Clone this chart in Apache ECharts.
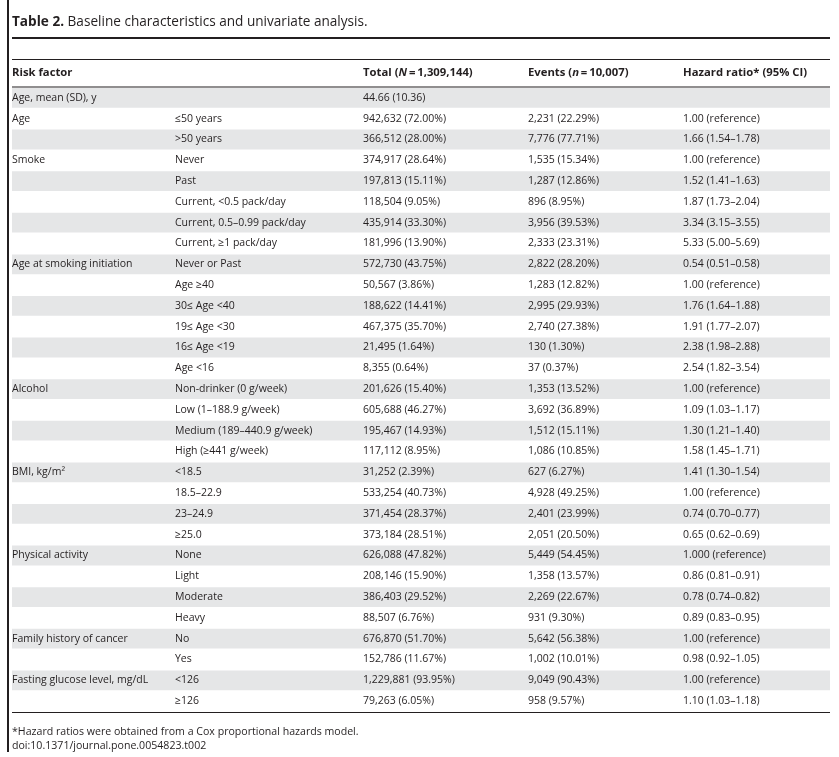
<!DOCTYPE html>
<html><head><meta charset="utf-8">
<script src="https://cdn.jsdelivr.net/npm/echarts@6/dist/echarts.min.js"></script>
<style>html,body{margin:0;padding:0;background:#fff}#c{width:839px;height:757px}</style>
</head><body><div id="c"></div>
<script>
// ---- table content ----
const titleBold = 'Table 2.';
const titleRest = ' Baseline characteristics and univariate analysis.';
const headers = ['Risk factor', 'Total ({i|N}\u2009=\u20091,309,144)', 'Events ({i|n}\u2009=\u200910,007)', 'Hazard ratio* (95% CI)'];
const factors = [
  'Age, mean (SD), y', 'Age', '', 'Smoke', '', '', '', '',
  'Age at smoking initiation', '', '', '', '', '',
  'Alcohol', '', '', '',
  'BMI, kg/m\u00B2', '', '', '',
  'Physical activity', '', '', '',
  'Family history of cancer', '',
  'Fasting glucose level, mg/dL', ''
];
const levels = [
  '', '\u226450 years', '>50 years',
  'Never', 'Past', 'Current, <0.5 pack/day', 'Current, 0.5\u20130.99 pack/day', 'Current, \u22651 pack/day',
  'Never or Past', 'Age \u226540', '30\u2264 Age <40', '19\u2264 Age <30', '16\u2264 Age <19', 'Age <16',
  'Non-drinker (0 g/week)', 'Low (1\u2013188.9 g/week)', 'Medium (189\u2013440.9 g/week)', 'High (\u2265441 g/week)',
  '<18.5', '18.5\u201322.9', '23\u201324.9', '\u226525.0',
  'None', 'Light', 'Moderate', 'Heavy',
  'No', 'Yes',
  '<126', '\u2265126'
];
const totals = [
  '44.66 (10.36)', '942,632 (72.00%)', '366,512 (28.00%)',
  '374,917 (28.64%)', '197,813 (15.11%)', '118,504 (9.05%)', '435,914 (33.30%)', '181,996 (13.90%)',
  '572,730 (43.75%)', '50,567 (3.86%)', '188,622 (14.41%)', '467,375 (35.70%)', '21,495 (1.64%)', '8,355 (0.64%)',
  '201,626 (15.40%)', '605,688 (46.27%)', '195,467 (14.93%)', '117,112 (8.95%)',
  '31,252 (2.39%)', '533,254 (40.73%)', '371,454 (28.37%)', '373,184 (28.51%)',
  '626,088 (47.82%)', '208,146 (15.90%)', '386,403 (29.52%)', '88,507 (6.76%)',
  '676,870 (51.70%)', '152,786 (11.67%)',
  '1,229,881 (93.95%)', '79,263 (6.05%)'
];
const events = [
  '', '2,231 (22.29%)', '7,776 (77.71%)',
  '1,535 (15.34%)', '1,287 (12.86%)', '896 (8.95%)', '3,956 (39.53%)', '2,333 (23.31%)',
  '2,822 (28.20%)', '1,283 (12.82%)', '2,995 (29.93%)', '2,740 (27.38%)', '130 (1.30%)', '37 (0.37%)',
  '1,353 (13.52%)', '3,692 (36.89%)', '1,512 (15.11%)', '1,086 (10.85%)',
  '627 (6.27%)', '4,928 (49.25%)', '2,401 (23.99%)', '2,051 (20.50%)',
  '5,449 (54.45%)', '1,358 (13.57%)', '2,269 (22.67%)', '931 (9.30%)',
  '5,642 (56.38%)', '1,002 (10.01%)',
  '9,049 (90.43%)', '958 (9.57%)'
];
const hazardRatios = [
  '', '1.00 (reference)', '1.66 (1.54\u20131.78)',
  '1.00 (reference)', '1.52 (1.41\u20131.63)', '1.87 (1.73\u20132.04)', '3.34 (3.15\u20133.55)', '5.33 (5.00\u20135.69)',
  '0.54 (0.51\u20130.58)', '1.00 (reference)', '1.76 (1.64\u20131.88)', '1.91 (1.77\u20132.07)', '2.38 (1.98\u20132.88)', '2.54 (1.82\u20133.54)',
  '1.00 (reference)', '1.09 (1.03\u20131.17)', '1.30 (1.21\u20131.40)', '1.58 (1.45\u20131.71)',
  '1.41 (1.30\u20131.54)', '1.00 (reference)', '0.74 (0.70\u20130.77)', '0.65 (0.62\u20130.69)',
  '1.000 (reference)', '0.86 (0.81\u20130.91)', '0.78 (0.74\u20130.82)', '0.89 (0.83\u20130.95)',
  '1.00 (reference)', '0.98 (0.92\u20131.05)',
  '1.00 (reference)', '1.10 (1.03\u20131.18)'
];
const footnotes = ['*Hazard ratios were obtained from a Cox proportional hazards model.', 'doi:10.1371/journal.pone.0054823.t002'];

// ---- layout / style ----
const FONT = '"Open Sans", "Noto Sans", sans-serif';
const FS = 10.5;
const HFS = 11.3;
const TFS = 13.6;
const INK = '#231f20';
const BAND = '#e5e6e7';
const colX = [12, 175, 363, 528, 683];
const tableLeft = 12, tableRight = 830;

const rowIdx = levels.map((_, i) => String(i));
const rows = levels.map((_, i) => [0, i]);

const chart = echarts.init(document.getElementById('c'), null, {renderer: 'canvas'});

const headerStyle = function (t) {
  return {text: t, fill: INK, fontSize: HFS, fontWeight: 'bold', fontFamily: FONT, verticalAlign: 'middle',
    rich: {i: {fontStyle: 'italic', fontWeight: 'bold', fontSize: HFS, fontFamily: FONT, fill: INK}}};
};

chart.setOption({
  animation: false,
  backgroundColor: '#fff',
  grid: {left: 0, right: 0, top: 87.5, height: 624, containLabel: false},
  xAxis: {type: 'value', min: 0, max: 839, show: false},
  yAxis: {type: 'category', data: rowIdx, inverse: true, show: false},
  series: [{
    type: 'custom',
    data: rows,
    renderItem: function (params, api) {
      const i = api.value(1);
      const c = api.coord([0, i]);
      const h = api.size([0, 1])[1];
      const cy = c[1];
      const children = [];
      if (i % 2 === 0) {
        children.push({type: 'rect', shape: {x: tableLeft, y: cy - h / 2 + 0.5, width: tableRight - tableLeft, height: h - 1},
          style: {fill: BAND}});
      }
      const cells = [factors[i], levels[i], totals[i], events[i], hazardRatios[i]];
      cells.forEach(function (t, k) {
        if (t) children.push({type: 'text', x: colX[k], y: cy,
          style: {text: t, fill: INK, fontSize: FS, fontFamily: FONT, verticalAlign: 'middle', align: 'left'}});
      });
      return {type: 'group', children: children};
    }
  }],
  graphic: [
    {type: 'rect', shape: {x: 7, y: 0, width: 2, height: 752}, style: {fill: INK}},
    {type: 'text', x: 12, y: 22, style: {text: '{b|' + titleBold + '}' + titleRest, fill: INK, fontSize: TFS, fontFamily: FONT,
      verticalAlign: 'middle', rich: {b: {fontWeight: 'bold', fontSize: TFS, fontFamily: FONT, fill: INK}}}},
    {type: 'rect', shape: {x: tableLeft, y: 37, width: tableRight - tableLeft, height: 2}, style: {fill: INK}},
    {type: 'rect', shape: {x: tableLeft, y: 59, width: tableRight - tableLeft, height: 1}, style: {fill: INK}},
    {type: 'rect', shape: {x: tableLeft, y: 86.5, width: tableRight - tableLeft, height: 1}, style: {fill: INK}},
    {type: 'rect', shape: {x: tableLeft, y: 712, width: tableRight - tableLeft, height: 1}, style: {fill: INK}},
    {type: 'text', x: colX[0], y: 73, style: headerStyle(headers[0])},
    {type: 'text', x: colX[2], y: 73, style: headerStyle(headers[1])},
    {type: 'text', x: colX[3], y: 73, style: headerStyle(headers[2])},
    {type: 'text', x: colX[4], y: 73, style: headerStyle(headers[3])},
    {type: 'text', x: 12, y: 732, style: {text: footnotes[0], fill: INK, fontSize: 10.6, fontFamily: FONT, verticalAlign: 'middle'}},
    {type: 'text', x: 12, y: 746, style: {text: footnotes[1], fill: INK, fontSize: 10.6, fontFamily: FONT, verticalAlign: 'middle'}}
  ]
});
</script>
</body></html>
